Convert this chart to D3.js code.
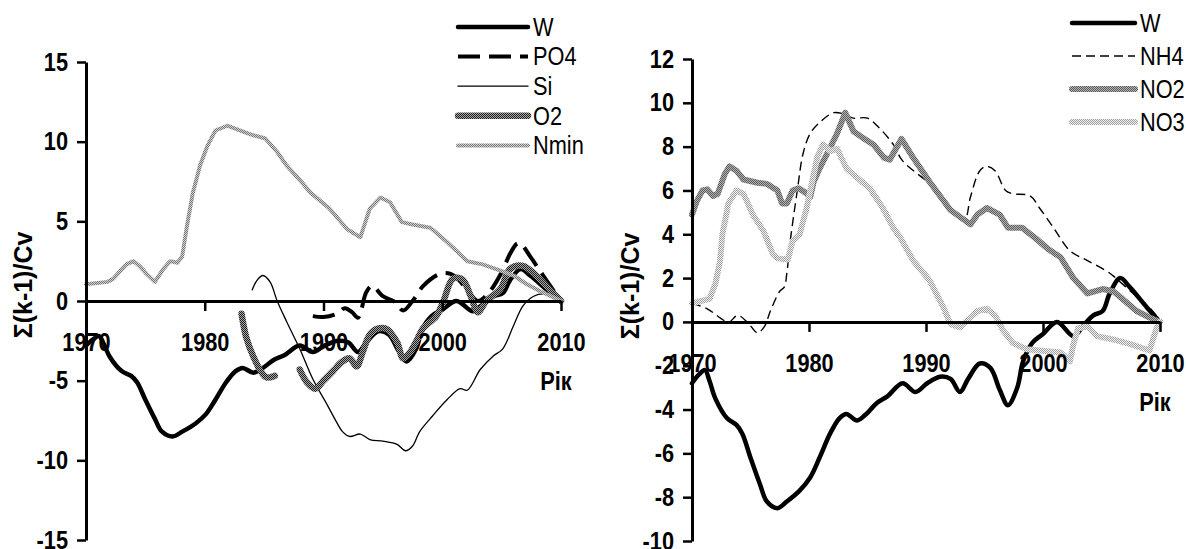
<!DOCTYPE html>
<html>
<head>
<meta charset="utf-8">
<script src="https://cdn.jsdelivr.net/npm/d3@7"></script>
<style>
  body { margin: 0; background: #fff; }
  svg { display: block; font-family: "Liberation Sans", Arial, sans-serif; }
</style>
</head>
<body>
<svg id="chart" width="1186" height="549"></svg>
<script>
// ---- data (year, Σ(k-1)/Cv) ----
const W = [[1970,-2.8],[1970.6,-2.4],[1971.1,-2.2],[1971.5,-2.7],[1972,-3.5],[1973,-4.4],[1973.8,-4.7],[1974.3,-5.1],[1975,-6.2],[1975.8,-7.4],[1976.4,-8.2],[1977.3,-8.5],[1978.1,-8.2],[1979.2,-7.7],[1980.1,-7.1],[1980.9,-6.2],[1981.8,-5.1],[1982.6,-4.4],[1983.2,-4.2],[1984.1,-4.5],[1984.9,-4.2],[1985.8,-3.7],[1986.7,-3.4],[1988,-2.8],[1989.1,-3.2],[1990.1,-2.8],[1991.2,-2.5],[1992.1,-2.6],[1992.9,-3.2],[1993.6,-2.6],[1994.6,-1.9],[1995.5,-2.1],[1996.3,-3.1],[1997,-3.8],[1997.8,-3.0],[1998.3,-1.8],[1999.1,-0.95],[2000,-0.55],[2001.2,0],[2002.6,-0.65],[2003.4,-0.2],[2004.3,0.3],[2005.1,0.5],[2005.7,1.3],[2006.6,2.0],[2007.4,1.6],[2008.9,0.65],[2010,0]];
const PO4 = [[1989.1,-0.95],[1990,-1.0],[1991.1,-0.8],[1991.8,-0.45],[1992.4,-0.7],[1992.9,-1.05],[1993.2,-0.5],[1993.6,0.55],[1994.1,0.95],[1995,0.3],[1996,-0.05],[1996.7,-0.6],[1997.5,0],[1998.4,0.95],[1999.8,1.7],[2000.7,1.7],[2001.3,1.4],[2002.2,0.6],[2003,0],[2004,0.6],[2005,1.8],[2005.7,2.95],[2006.3,3.6],[2006.6,3.6],[2007.4,2.8],[2008.5,1.6],[2009.7,0.3],[2010,0]];
const Si = [[1984,0.7],[1984.4,1.3],[1984.9,1.6],[1985.5,1.2],[1986.1,0],[1986.9,-1.3],[1988,-3.0],[1989.1,-4.9],[1990.3,-6.5],[1991.1,-7.6],[1991.6,-8.2],[1992.2,-8.5],[1993.1,-8.35],[1993.9,-8.7],[1995,-8.8],[1996.2,-9.0],[1996.9,-9.4],[1997.5,-9.1],[1998.1,-8.2],[1999.2,-7.2],[2000.4,-6.2],[2001.5,-5.5],[2002.1,-5.6],[2003.2,-4.3],[2004.3,-3.45],[2005.1,-3.0],[2006,-1.55],[2006.8,-0.3],[2007.7,0.3],[2008.5,0.45],[2009.3,0.3],[2010,0]];
const O2 = [[1983.1,-0.8],[1983.5,-2.3],[1984.1,-3.5],[1984.8,-4.5],[1985.2,-4.8],[1985.9,-4.7],[1986.5,null],[1988,-4.3],[1988.6,-5.1],[1989.3,-5.5],[1990,-5.0],[1990.8,-4.4],[1991.6,-3.8],[1992.2,-3.6],[1992.8,-4.1],[1993.3,-3.2],[1993.9,-2.1],[1994.5,-1.75],[1995.3,-1.75],[1996.2,-2.6],[1996.7,-3.6],[1997.3,-3.2],[1997.9,-2.4],[1998.4,-1.7],[1999.5,-0.95],[2000.1,0],[2000.9,1.4],[2001.7,1.35],[2002.4,0.3],[2003,-0.7],[2003.7,0],[2004.9,0.75],[2005.7,2.0],[2006.8,2.2],[2007.9,1.6],[2009,0.75],[2010,0]];
const Nmin = [[1970,1.05],[1971.8,1.2],[1972.3,1.4],[1973.4,2.3],[1974,2.5],[1974.5,2.2],[1975.1,1.7],[1975.8,1.2],[1976.5,2.0],[1977.1,2.5],[1977.7,2.4],[1978.1,2.8],[1978.5,4.7],[1979,6.8],[1979.6,8.5],[1980.2,9.7],[1980.9,10.7],[1981.9,11.0],[1983,10.7],[1984.1,10.4],[1985.1,10.2],[1986.1,9.35],[1986.9,8.5],[1988,7.6],[1988.9,6.8],[1990.5,5.8],[1992,4.5],[1993.1,4.0],[1993.9,5.8],[1994.8,6.5],[1995.6,6.2],[1996.6,4.95],[1997.5,4.8],[1999,4.6],[2000.4,3.7],[2002.1,2.5],[2003.4,2.3],[2004.9,1.9],[2006,1.6],[2007.1,1.07],[2008.2,0.63],[2009.3,0.25],[2010,0]];

const NH4 = [[1970,0.85],[1971.3,0.6],[1972.8,0.05],[1973.2,0],[1973.9,0.3],[1974.8,-0.05],[1975.6,-0.5],[1976.2,-0.2],[1976.7,0.5],[1977.5,1.4],[1977.9,1.6],[1978.1,2.2],[1978.4,3.7],[1979,6.0],[1979.5,7.7],[1980.1,8.6],[1980.9,9.1],[1982.1,9.55],[1982.9,9.5],[1983.8,9.3],[1985,9.3],[1986.1,8.8],[1987.2,8.1],[1988,7.35],[1990.3,6.3],[1992.1,5.2],[1993.3,4.7],[1993.8,5.7],[1994.6,6.9],[1995.2,7.1],[1995.9,6.9],[1996.8,6.0],[1997.4,5.85],[1998.9,5.75],[1999.7,5.2],[2000.9,4.3],[2002.3,3.25],[2003.8,2.8],[2005.5,2.3],[2006,2.1],[2007.7,1.3],[2009.1,0.65],[2009.8,0.2],[2010,0]];
const NO2 = [[1970,4.9],[1970.4,5.5],[1970.9,6.0],[1971.3,6.05],[1971.8,5.75],[1972.2,5.85],[1972.8,6.75],[1973.2,7.1],[1973.8,6.9],[1974.4,6.5],[1975.6,6.35],[1976.4,6.3],[1977.3,6.0],[1977.7,5.4],[1978.1,5.4],[1978.6,6.0],[1979.1,6.1],[1979.7,5.9],[1980.1,5.7],[1980.4,6.4],[1980.9,7.0],[1981.8,7.95],[1982.4,8.6],[1983.1,9.55],[1983.8,8.7],[1984.6,8.4],[1985.5,8.1],[1986.4,7.5],[1986.9,7.4],[1987.9,8.35],[1988.9,7.5],[1990.3,6.4],[1992.1,5.1],[1993.8,4.45],[1994.4,4.9],[1995.2,5.2],[1996.3,4.9],[1997,4.3],[1998.2,4.3],[1999.4,3.8],[2000.5,3.3],[2001.5,2.95],[2002.6,2.0],[2003.8,1.3],[2005.1,1.5],[2006,1.4],[2006.8,1.05],[2008,0.5],[2009.1,0.2],[2010,0]];
const NO3 = [[1970,0.85],[1971.5,1.05],[1972,1.75],[1972.4,2.8],[1972.6,4.0],[1973.1,5.4],[1973.8,6.0],[1974.4,5.85],[1975.2,4.9],[1976.1,4.15],[1976.9,3.1],[1977.3,2.9],[1978.2,2.85],[1978.6,3.7],[1979.2,4.0],[1979.8,5.2],[1980.7,7.5],[1981.2,8.1],[1981.8,7.8],[1982.4,7.9],[1983.2,7.0],[1984.4,6.45],[1985.2,6.1],[1986.3,5.2],[1987.2,4.3],[1987.8,3.85],[1988.9,2.8],[1990.3,1.9],[1991.5,0.65],[1992.1,-0.1],[1992.9,-0.25],[1993.6,0.1],[1994.4,0.5],[1995.2,0.6],[1995.9,0.3],[1996.6,-0.4],[1997.4,-0.95],[1998.6,-1.25],[1999.7,-1.3],[2001.5,-1.4],[2002.3,-1.8],[2002.6,-1.0],[2003,-0.3],[2003.8,-0.2],[2004.6,-0.65],[2006,-0.8],[2007.4,-1.0],[2008.5,-1.2],[2009.1,-1.3],[2009.7,-0.3],[2010,0]];

const yearTicks = [1970, 1980, 1990, 2000, 2010];
const leftYTicks = [-15, -10, -5, 0, 5, 10, 15];
const rightYTicks = [-10, -8, -6, -4, -2, 0, 2, 4, 6, 8, 10, 12];
const leftNames = ["W", "PO4", "Si", "O2", "Nmin"];
const rightNames = ["W", "NH4", "NO2", "NO3"];
const axisTitle = "Σ(k-1)/Cv";
const xTitle = "Рік";

const SX = 0.87; // text is a bit narrow in the picture

const svg = d3.select("#chart");
const defs = svg.append("defs");

// checkered textures for the gray series
function checker(id, dark, light) {
  let p = defs.append("pattern").attr("id", id)
    .attr("patternUnits", "userSpaceOnUse").attr("width", 2).attr("height", 2);
  p.append("rect").attr("width", 2).attr("height", 2).attr("fill", light);
  p.append("rect").attr("width", 1).attr("height", 1).attr("fill", dark);
  p.append("rect").attr("x", 1).attr("y", 1).attr("width", 1).attr("height", 1).attr("fill", dark);
}
checker("texO2", "#1e1e1e", "#a8a8a8");
checker("texNmin", "#7a7a7a", "#cfcfcf");
checker("texNO2", "#5e5e5e", "#b0b0b0");
checker("texNO3", "#a0a0a0", "#f0f0f0");

const styles = {
  W:    { stroke: "#000", width: 4.5, dash: null, curve: d3.curveCatmullRom },
  PO4:  { stroke: "#000", width: 4, dash: "22,9", curve: d3.curveCatmullRom },
  Si:   { stroke: "#000", width: 1.3, dash: null, curve: d3.curveCatmullRom },
  O2:   { stroke: "url(#texO2)", width: 6.5, dash: null, curve: d3.curveCatmullRom },
  Nmin: { stroke: "url(#texNmin)", width: 4, dash: null, curve: d3.curveLinear },
  NH4:  { stroke: "#000", width: 1.4, dash: "9,5", curve: d3.curveCatmullRom },
  NO2:  { stroke: "url(#texNO2)", width: 6, dash: null, curve: d3.curveLinear },
  NO3:  { stroke: "url(#texNO3)", width: 6, dash: null, curve: d3.curveLinear }
};

function squeezeText(sel, x, y, txt, anchor, weight) {
  return sel.append("text")
    .attr("transform", "translate(" + x + "," + y + ") scale(" + SX + ",1)")
    .attr("text-anchor", anchor)
    .attr("dy", "0.35em")
    .style("font-size", "25px")
    .style("font-weight", weight)
    .text(txt);
}

function drawPanel(cfg) {
  let g = svg.append("g");
  let x = d3.scaleLinear().domain([1970, 2010]).range(cfg.xr);
  let y = d3.scaleLinear().domain(cfg.yd).range(cfg.yr);

  // series
  cfg.series.forEach((s) => {
    let st = styles[s.name];
    let line = d3.line()
      .defined((d) => d[1] !== null)
      .x((d) => x(d[0]))
      .y((d) => y(d[1]))
      .curve(st.curve);
    g.append("path")
      .datum(s.data)
      .attr("d", line)
      .attr("fill", "none")
      .attr("stroke", st.stroke)
      .attr("stroke-width", st.width)
      .attr("stroke-dasharray", st.dash)
      .attr("stroke-linejoin", "round")
      .attr("stroke-linecap", st.dash ? "butt" : "round");
  });

  // axes
  let yAxis = d3.axisLeft(y).tickValues(cfg.yTicks).tickSize(9).tickSizeOuter(0).tickPadding(9)
    .tickFormat((d) => String(d));
  let yG = g.append("g").attr("transform", "translate(" + cfg.xr[0] + ",0)").call(yAxis);
  let xAxis = d3.axisBottom(x).tickValues(yearTicks).tickSize(10).tickSizeOuter(0).tickFormat((d) => String(d));
  let xG = g.append("g").attr("transform", "translate(0," + y(0) + ")").call(xAxis);

  [yG, xG].forEach((a) => {
    a.select(".domain").attr("stroke", "#000").attr("stroke-width", 3);
    a.selectAll(".tick line").attr("stroke", "#000").attr("stroke-width", 2.5);
    a.selectAll(".tick text")
      .attr("fill", "#000")
      .style("font-size", "25px")
      .style("font-weight", "bold")
      .style("font-family", "'Liberation Sans', Arial, sans-serif");
  });
  yG.selectAll(".tick text").attr("x", -18 / SX).attr("transform", "scale(" + SX + ",1)");
  xG.selectAll(".tick text").attr("y", 41).attr("dy", "0.35em").attr("x", 0).attr("transform", "scale(" + SX + ",1)");

  // titles
  squeezeText(g, cfg.xr[1] - 5, y(0) + 80, xTitle, "middle", "bold");
  g.append("text")
    .attr("transform", "translate(" + cfg.titleX + "," + cfg.titleY + ") rotate(-90)")
    .attr("text-anchor", "middle")
    .attr("dy", "0.35em")
    .style("font-size", "25px")
    .style("font-weight", "bold")
    .text(axisTitle);

  // legend
  cfg.series.forEach((s, i) => {
    let st = styles[s.name];
    let ly = cfg.legY + i * cfg.legStep;
    g.append("line")
      .attr("x1", cfg.legX).attr("x2", cfg.legX + cfg.legW)
      .attr("y1", ly).attr("y2", ly)
      .attr("stroke", st.stroke)
      .attr("stroke-width", st.width)
      .attr("stroke-dasharray", st.dash)
      .attr("stroke-linecap", st.dash ? "butt" : "round");
    squeezeText(g, cfg.legX + cfg.legW + 5, ly, s.name, "start", "normal");
  });
}

drawPanel({
  xr: [86, 561], yd: [-15, 15], yr: [540, 62], yTicks: leftYTicks,
  titleX: 23, titleY: 285,
  legX: 458, legW: 70, legY: 27, legStep: 29.6,
  series: [
    { name: leftNames[0], data: W },
    { name: leftNames[1], data: PO4 },
    { name: leftNames[2], data: Si },
    { name: leftNames[3], data: O2 },
    { name: leftNames[4], data: Nmin }
  ]
});

drawPanel({
  xr: [692, 1160], yd: [-10, 12], yr: [541, 59], yTicks: rightYTicks,
  titleX: 630, titleY: 286,
  legX: 1072, legW: 63, legY: 23, legStep: 33,
  series: [
    { name: rightNames[0], data: W },
    { name: rightNames[1], data: NH4 },
    { name: rightNames[2], data: NO2 },
    { name: rightNames[3], data: NO3 }
  ]
});
</script>
</body>
</html>
